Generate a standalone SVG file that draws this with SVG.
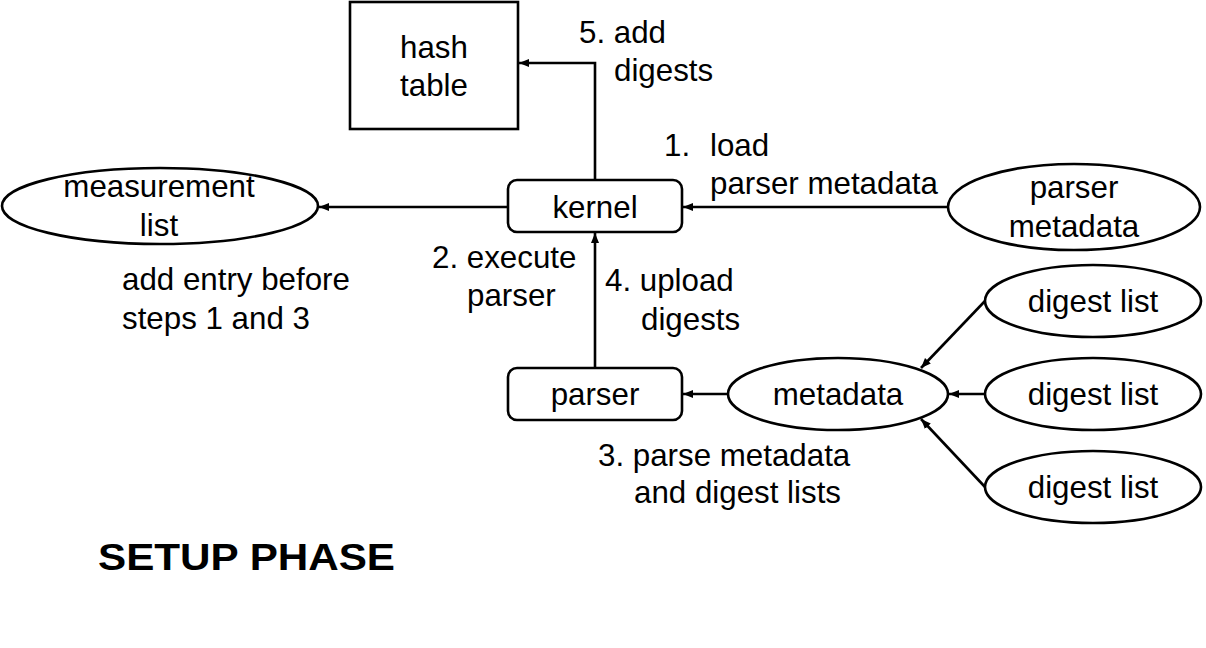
<svg xmlns="http://www.w3.org/2000/svg" width="1206" height="648" viewBox="0 0 1206 648">
<style>
.s{fill:#fff;stroke:#000;stroke-width:2.6}
.t{font-family:"Liberation Sans",Arial,sans-serif;font-size:31.3px;fill:#000}
.m{text-anchor:middle}
.c{fill:none;stroke:#000;stroke-width:2.6}
.b{font-family:"Liberation Sans",Arial,sans-serif;font-size:37px;font-weight:bold;fill:#000}
</style>
<defs>
<marker id="a" viewBox="0 0 10 10" refX="10" refY="5" markerWidth="10" markerHeight="10" markerUnits="userSpaceOnUse" orient="auto">
<path d="M0,1 L10,5 L0,9 Z" fill="#000"/>
</marker>
</defs>
<rect width="1206" height="648" fill="#fff"/>
<g id="connectors">
<path class="c" d="M595,180 V63 H519" marker-end="url(#a)"/>
<path class="c" d="M508,207 H319" marker-end="url(#a)"/>
<path class="c" d="M948,207 H683" marker-end="url(#a)"/>
<path class="c" d="M595,368 V233" marker-end="url(#a)"/>
<path class="c" d="M728,394 H683" marker-end="url(#a)"/>
<path class="c" d="M985,301 L921,368" marker-end="url(#a)"/>
<path class="c" d="M985,394 H949" marker-end="url(#a)"/>
<path class="c" d="M985,487 L921,419" marker-end="url(#a)"/>
</g>
<g id="hash-table">
<rect class="s" x="350" y="2" width="168" height="127"/>
<text class="t m" x="434" y="58">hash</text>
<text class="t m" x="434" y="96">table</text>
</g>
<g id="kernel">
<rect class="s" x="508" y="180" width="174" height="52" rx="9"/>
<text class="t m" x="595" y="218">kernel</text>
</g>
<g id="measurement-list">
<ellipse class="s" cx="160" cy="206" rx="158" ry="38"/>
<text class="t m" x="159" y="197">measurement</text>
<text class="t m" x="159" y="236">list</text>
</g>
<g id="parser-metadata">
<ellipse class="s" cx="1074" cy="207" rx="126" ry="43"/>
<text class="t m" x="1074" y="198">parser</text>
<text class="t m" x="1074" y="237">metadata</text>
</g>
<g id="parser">
<rect class="s" x="508" y="368" width="174" height="52" rx="9"/>
<text class="t m" x="595" y="405">parser</text>
</g>
<g id="metadata">
<ellipse class="s" cx="838" cy="394" rx="110" ry="36"/>
<text class="t m" x="838" y="405">metadata</text>
</g>
<g id="digest-list-1">
<ellipse class="s" cx="1093" cy="301" rx="108" ry="36"/>
<text class="t m" x="1093" y="312">digest list</text>
</g>
<g id="digest-list-2">
<ellipse class="s" cx="1093" cy="394" rx="108" ry="36"/>
<text class="t m" x="1093" y="405">digest list</text>
</g>
<g id="digest-list-3">
<ellipse class="s" cx="1093" cy="487" rx="108" ry="36"/>
<text class="t m" x="1093" y="498">digest list</text>
</g>
<g id="labels">
<text class="t" x="579" y="43">5. add</text>
<text class="t" x="614" y="81">digests</text>
<text class="t" x="664" y="156">1.</text>
<text class="t" x="710" y="156">load</text>
<text class="t" x="710" y="194">parser metadata</text>
<text class="t" x="122" y="290">add entry before</text>
<text class="t" x="122" y="329">steps 1 and 3</text>
<text class="t" x="432" y="268">2. execute</text>
<text class="t" x="467" y="306">parser</text>
<text class="t" x="605" y="291">4. upload</text>
<text class="t" x="641" y="330">digests</text>
<text class="t" x="598" y="466">3. parse metadata</text>
<text class="t" x="634" y="503">and digest lists</text>
<text class="b" x="98" y="570" textLength="297" lengthAdjust="spacingAndGlyphs">SETUP PHASE</text>
</g>
</svg>
